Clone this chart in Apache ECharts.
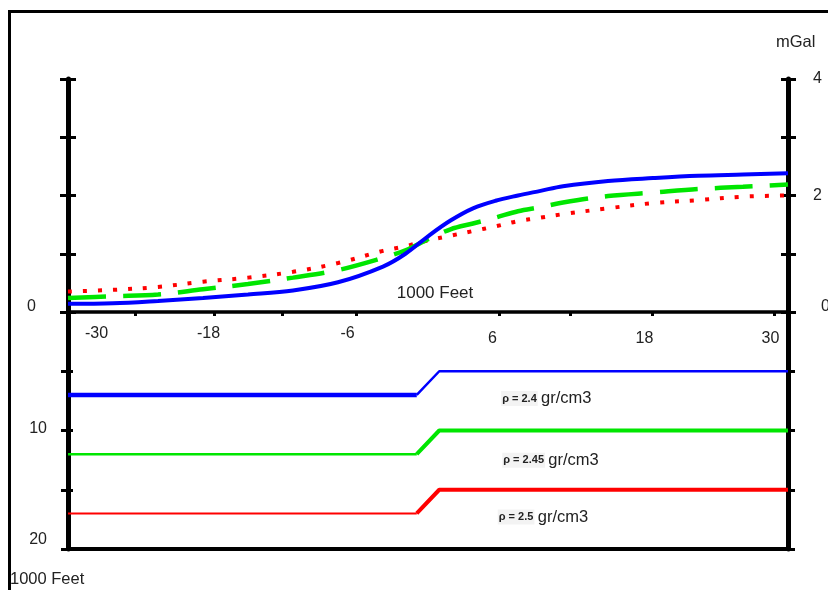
<!DOCTYPE html>
<html>
<head>
<meta charset="utf-8">
<script src="https://cdn.jsdelivr.net/npm/echarts@6/dist/echarts.min.js"></script>
<style>
html,body{margin:0;padding:0;background:#fff;}
#c{width:828px;height:590px;}
</style>
</head>
<body>
<div id="c"></div>
<script>
// ---- data ----
const gravX      = [-32, -28, -24, -20, -16, -12, -8, -4, -2, 0, 2, 4, 6, 8, 10, 12, 16, 20, 24, 28, 32];
const blueGrav   = [0.14,0.15,0.19,0.24,0.30,0.37,0.51,0.78,1.00,1.30,1.57,1.78,1.91,2.00,2.08,2.16,2.25,2.30,2.34,2.36,2.38];
const greenGrav  = [0.24,0.27,0.30,0.39,0.48,0.59,0.72,0.93,1.06,1.25,1.42,1.52,1.62,1.73,1.80,1.88,1.99,2.05,2.11,2.15,2.19];
const redGrav    = [0.35,0.38,0.43,0.52,0.59,0.69,0.84,1.05,1.13,1.23,1.31,1.39,1.47,1.56,1.62,1.68,1.78,1.87,1.92,1.98,2.00];

const profileX   = [-32, -1, 1, 32];
const blueDepth  = [7, 7, 5, 5];
const greenDepth = [12, 12, 10, 10];
const redDepth   = [17, 17, 15, 15];

const xTickLabels     = [-30, -18, -6, 6, 18, 30];
const xTickMarks      = [-26, -19, -13, -6.4, 6.3, 12.6, 19.9, 30.8];
const gravTickLabels  = [0, 2, 4];
const depthTickLabels = [0, 10, 20];
const densityLabels   = ['ρ = 2.4', 'ρ = 2.45', 'ρ = 2.5'];
const densityUnit     = 'gr/cm3';
const xName = '1000 Feet';
const gravName = 'mGal';
const depthName = '1000 Feet';

// ---- helpers ----
const zip = (xs, ys) => xs.map((x, i) => [x, ys[i]]);
const FONT = '"Liberation Sans", Arial, sans-serif';
const BLUE = '#0000ff', GREEN = '#00e600', RED = '#ff0000';

// small typographic nudges (same order as xTickLabels) so the hand-placed tick labels sit as in the reference
const xLabelPad = [[2, 0, 0, 12], [2, 34, 0, 0], [2, 26, 0, 0], [7, 6, 0, 0], [7, 0, 0, 28], [7, 0, 0, 10]];
const xLabelRich = {};
xLabelPad.forEach((p, i) => {
  xLabelRich['l' + i] = {fontFamily: FONT, fontSize: 16, color: '#222', padding: p};
});

function densityMark(coord, text) {
  return {
    symbol: 'circle', symbolSize: 0, silent: true,
    label: {
      show: true, position: 'right', distance: 0,
      formatter: '{p|' + text + '} {u|' + densityUnit + '}',
      rich: {
        p: {fontFamily: FONT, fontSize: 11, fontWeight: 'bold', color: '#222', backgroundColor: '#f3f3f3', padding: [2, 1, 2, 1]},
        u: {fontFamily: FONT, fontSize: 16.5, color: '#222'}
      }
    },
    data: [{coord: coord}]
  };
}

const tickStyle = {color: '#000', width: 3};
const noLine = {show: false, onZero: false};

const option = {
  animation: false,
  backgroundColor: '#fff',
  grid: [
    {left: 68, right: 40, top: 79, height: 233, outerBoundsMode: 'none'},
    {left: 68, right: 40, top: 312, height: 237, outerBoundsMode: 'none'}
  ],
  xAxis: [
    {
      gridIndex: 0, type: 'value', min: -32, max: 32, position: 'bottom',
      splitLine: {show: false},
      axisLine: {show: true, onZero: false, lineStyle: {color: '#000', width: 3.5}},
      axisTick: {show: true, customValues: xTickMarks, length: 4, inside: false, lineStyle: tickStyle},
      axisLabel: {show: true, customValues: xTickLabels, margin: 12, color: '#222', fontFamily: FONT, fontSize: 16,
        formatter: v => '{l' + xTickLabels.indexOf(Number(v)) + '|' + v + '}', rich: xLabelRich},
      name: xName, nameLocation: 'middle', nameGap: -27,
      nameTextStyle: {color: '#222', fontFamily: FONT, fontSize: 17, padding: [0, 0, 0, 14]}
    },
    {
      gridIndex: 1, type: 'value', min: -32, max: 32, position: 'bottom',
      splitLine: {show: false},
      axisLine: {show: true, onZero: false, lineStyle: {color: '#000', width: 4}},
      axisTick: {show: false}, axisLabel: {show: false}
    }
  ],
  yAxis: [
    // 0: gravity, left, outer ticks
    {gridIndex: 0, type: 'value', min: 0, max: 4, interval: 1, position: 'left',
     splitLine: {show: false},
     axisLine: {show: true, onZero: false, lineStyle: {color: '#000', width: 5}},
     axisTick: {show: true, length: 8, lineStyle: tickStyle},
     axisLabel: {show: false}},
    // 1: gravity, left, inner ticks
    {gridIndex: 0, type: 'value', min: 0, max: 4, interval: 1, position: 'left',
     splitLine: {show: false}, axisLine: noLine,
     axisTick: {show: true, inside: true, length: 8, lineStyle: tickStyle},
     axisLabel: {show: false}},
    // 2: gravity, right, labels
    {gridIndex: 0, type: 'value', min: 0, max: 4, interval: 1, position: 'right',
     splitLine: {show: false},
     axisLine: {show: true, onZero: false, lineStyle: {color: '#000', width: 5}},
     axisTick: {show: true, length: 8, lineStyle: tickStyle},
     axisLabel: {show: true, customValues: gravTickLabels, margin: 25, color: '#222', fontFamily: FONT, fontSize: 16,
       formatter: v => Number(v) === 0 ? '{z|0}' : '{n|' + v + '}',
       rich: {z: {fontFamily: FONT, fontSize: 16, color: '#222', padding: [0, 0, 10, 8]},
              n: {fontFamily: FONT, fontSize: 16, color: '#222'}}}},
    // 3: gravity, right, inner ticks
    {gridIndex: 0, type: 'value', min: 0, max: 4, interval: 1, position: 'right',
     splitLine: {show: false}, axisLine: noLine,
     axisTick: {show: true, inside: true, length: 7, lineStyle: tickStyle},
     axisLabel: {show: false}},
    // 4: depth, left, labels
    {gridIndex: 1, type: 'value', min: 0, max: 20, interval: 5, inverse: true, position: 'left',
     splitLine: {show: false},
     axisLine: {show: true, onZero: false, lineStyle: {color: '#000', width: 5}},
     axisTick: {show: true, length: 7, lineStyle: tickStyle},
     axisLabel: {show: true, customValues: depthTickLabels, margin: 21, color: '#222', fontFamily: FONT, fontSize: 16,
       formatter: v => Number(v) === 0 ? '{a|0}' : (Number(v) === 10 ? '{b|10}' : '{c|20}'),
       rich: {a: {fontFamily: FONT, fontSize: 16, color: '#222', padding: [0, 11, 10, 0]},
              b: {fontFamily: FONT, fontSize: 16, color: '#222', padding: [0, 0, 4, 0]},
              c: {fontFamily: FONT, fontSize: 16, color: '#222', padding: [0, 0, 18, 0]}}}},
    // 5: depth, left, inner ticks
    {gridIndex: 1, type: 'value', min: 0, max: 20, interval: 5, inverse: true, position: 'left',
     splitLine: {show: false}, axisLine: noLine,
     axisTick: {show: true, inside: true, length: 5, lineStyle: tickStyle},
     axisLabel: {show: false}},
    // 6: depth, right
    {gridIndex: 1, type: 'value', min: 0, max: 20, interval: 5, inverse: true, position: 'right',
     splitLine: {show: false},
     axisLine: {show: true, onZero: false, lineStyle: {color: '#000', width: 5}},
     axisTick: {show: true, length: 7, lineStyle: tickStyle},
     axisLabel: {show: false}}
  ],
  graphic: [
    {type: 'rect', silent: true, z: 100,
     shape: {x: 9.5, y: 11.5, width: 840, height: 600},
     style: {fill: null, stroke: '#000', lineWidth: 3}},
    {type: 'text', silent: true, left: 776, top: 34,
     style: {text: gravName, fontFamily: FONT, fontSize: 16.5, fill: '#222'}},
    {type: 'text', silent: true, left: 10, top: 571,
     style: {text: depthName, fontFamily: FONT, fontSize: 16.5, fill: '#222'}}
  ],
  series: [
    {type: 'line', name: 'ρ 2.4 anomaly', xAxisIndex: 0, yAxisIndex: 0, data: zip(gravX, blueGrav),
     smooth: 0.35, symbol: 'none', z: 4,
     lineStyle: {color: BLUE, width: 4}},
    {type: 'line', name: 'ρ 2.45 anomaly', xAxisIndex: 0, yAxisIndex: 0, data: zip(gravX, greenGrav),
     smooth: 0.35, symbol: 'none', z: 3,
     lineStyle: {color: GREEN, width: 4.5, type: [38, 17], cap: 'butt'}},
    {type: 'line', name: 'ρ 2.5 anomaly', xAxisIndex: 0, yAxisIndex: 0, data: zip(gravX, redGrav),
     smooth: 0.35, symbol: 'none', z: 2,
     lineStyle: {color: RED, width: 4, type: [4, 11], cap: 'butt'}},

    {type: 'line', xAxisIndex: 1, yAxisIndex: 4, data: zip(profileX, blueDepth).slice(0, 2),
     symbol: 'none', lineStyle: {color: BLUE, width: 4.5}},
    {type: 'line', xAxisIndex: 1, yAxisIndex: 4, data: zip(profileX, blueDepth).slice(1),
     symbol: 'none', lineStyle: {color: BLUE, width: 2.5},
     markPoint: densityMark([6.5, 7.3], densityLabels[0])},
    {type: 'line', xAxisIndex: 1, yAxisIndex: 4, data: zip(profileX, greenDepth).slice(0, 2),
     symbol: 'none', lineStyle: {color: GREEN, width: 2.5}},
    {type: 'line', xAxisIndex: 1, yAxisIndex: 4, data: zip(profileX, greenDepth).slice(1),
     symbol: 'none', lineStyle: {color: GREEN, width: 4},
     markPoint: densityMark([6.6, 12.5], densityLabels[1])},
    {type: 'line', xAxisIndex: 1, yAxisIndex: 4, data: zip(profileX, redDepth).slice(0, 2),
     symbol: 'none', lineStyle: {color: RED, width: 2}},
    {type: 'line', xAxisIndex: 1, yAxisIndex: 4, data: zip(profileX, redDepth).slice(1),
     symbol: 'none', lineStyle: {color: RED, width: 4},
     markPoint: densityMark([6.2, 17.3], densityLabels[2])}
  ]
};

const chart = echarts.init(document.getElementById('c'), null, {renderer: 'canvas'});
chart.setOption(option);
</script>
</body>
</html>
